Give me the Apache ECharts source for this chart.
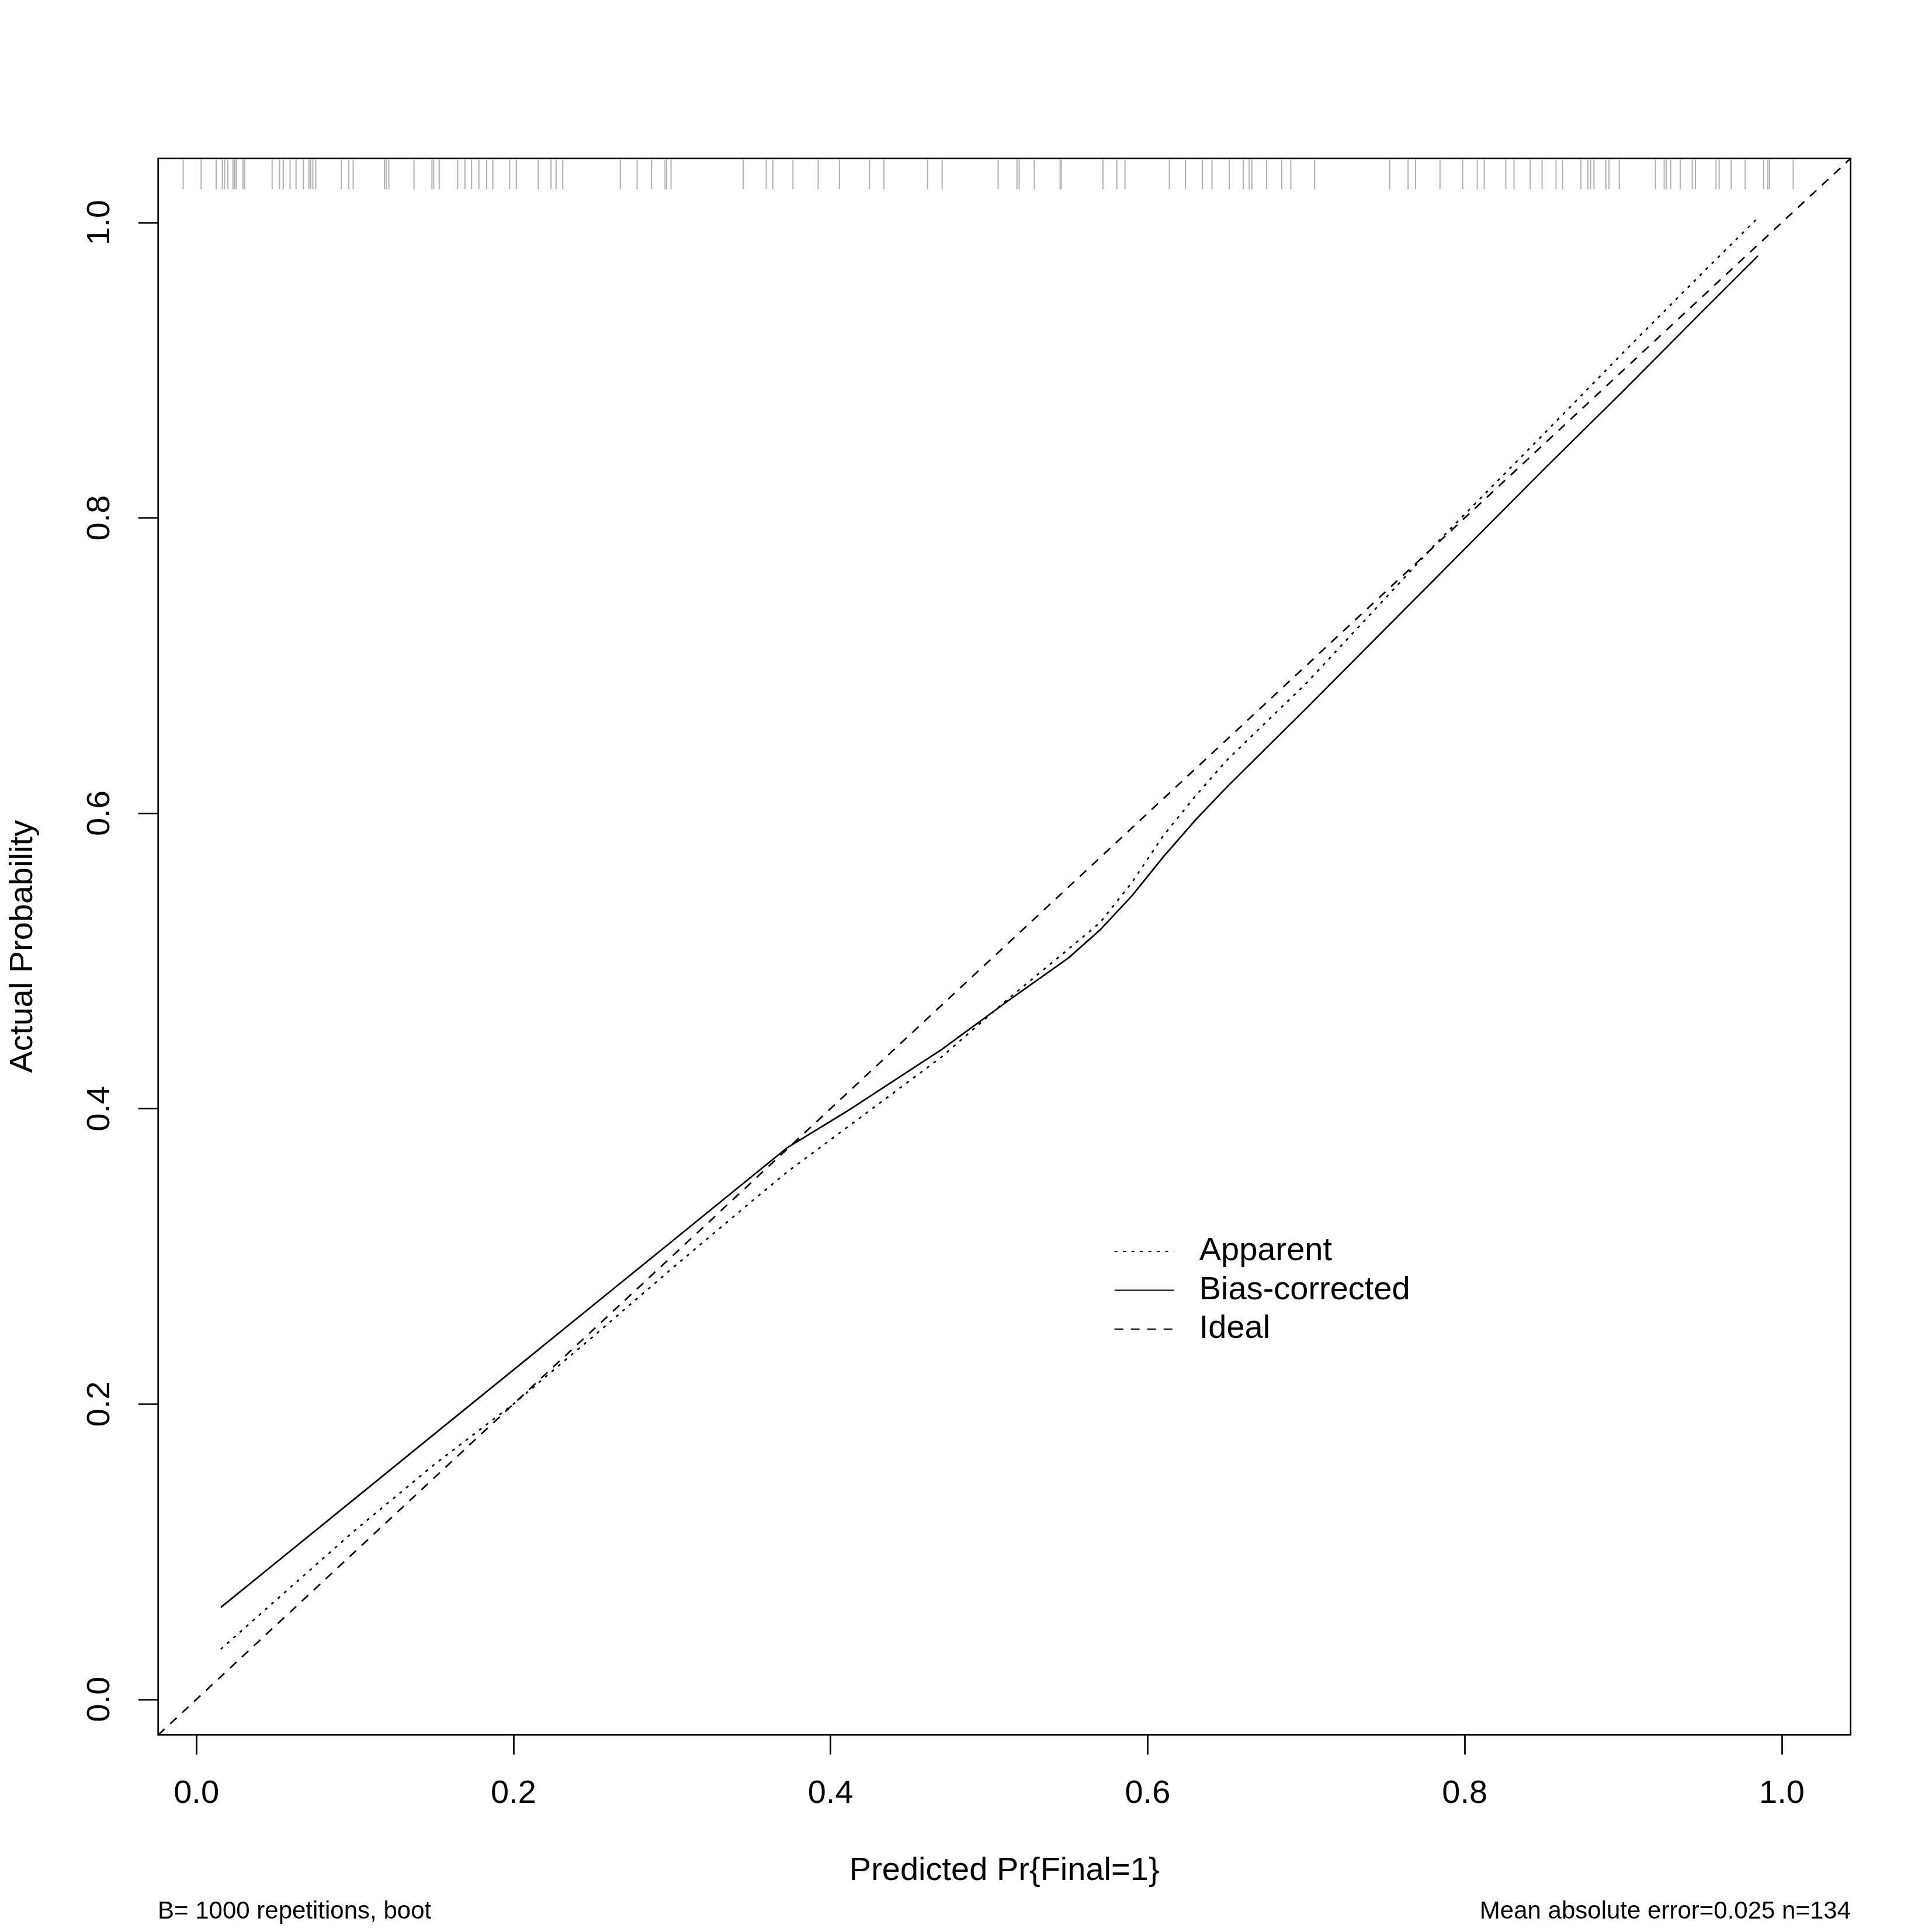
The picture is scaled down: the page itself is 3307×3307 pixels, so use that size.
<!DOCTYPE html>
<html>
<head>
<meta charset="utf-8">
<script src="https://cdn.jsdelivr.net/npm/echarts@6/dist/echarts.min.js"></script>
<style>
html,body{margin:0;padding:0;background:#fff;}
#chart{width:3307px;height:3307px;}
</style>
</head>
<body>
<div id="chart"></div>
<script>
// ---- data ----
const xTicks = [0.0, 0.2, 0.4, 0.6, 0.8, 1.0];
const yTicks = [0.0, 0.2, 0.4, 0.6, 0.8, 1.0];
const xRange = [-0.0241, 1.0434];
const yRange = [-0.0239, 1.0435];

const predicted = [0.0154, 0.05, 0.1, 0.15, 0.2, 0.25, 0.3, 0.35, 0.3725, 0.41, 0.47, 0.51, 0.55, 0.57, 0.59, 0.61, 0.63, 0.65, 0.7, 0.75, 0.78, 0.8, 0.85, 0.9, 0.95, 0.985];
const apparent = [0.034, 0.067, 0.1145, 0.159, 0.200, 0.2455, 0.2918, 0.337, 0.357, 0.387, 0.435, 0.4725, 0.508, 0.526, 0.553, 0.585, 0.6115, 0.636, 0.688, 0.7457, 0.7806, 0.8025, 0.857, 0.912, 0.966, 1.0032];
const biasCorrected = [0.0623, 0.0924, 0.136, 0.1796, 0.2231, 0.2667, 0.3102, 0.3538, 0.3734, 0.398, 0.440, 0.4715, 0.502, 0.521, 0.544, 0.5706, 0.5953, 0.6178, 0.671, 0.725, 0.7574, 0.779, 0.833, 0.886, 0.940, 0.9775];

const rugValues = [-0.0083, 0.0030, 0.0125, 0.0164, 0.0178, 0.0199, 0.0231, 0.0242, 0.0252, 0.0294, 0.0305,
  0.0478, 0.0524, 0.0548, 0.0591, 0.0629, 0.0675, 0.0710, 0.0721, 0.0735, 0.0753, 0.0915, 0.0961, 0.0989,
  0.1186, 0.1197, 0.1214, 0.1373, 0.1486, 0.1497, 0.1532, 0.1648, 0.1694, 0.1736, 0.1782, 0.1831, 0.1870,
  0.1976, 0.2018, 0.2156, 0.2237, 0.2269, 0.2311, 0.2674, 0.2780, 0.2871, 0.2956, 0.2966, 0.2994, 0.3449,
  0.3594, 0.3636, 0.3763, 0.3922, 0.4056, 0.4246, 0.4337, 0.4612, 0.4704, 0.5057, 0.5176, 0.5190, 0.5285,
  0.5448, 0.5455, 0.5718, 0.5806, 0.5857, 0.6137, 0.6239, 0.6345, 0.6406, 0.6515, 0.6604, 0.6641, 0.6658,
  0.6750, 0.6846, 0.6903, 0.7053, 0.7527, 0.7643, 0.7690, 0.7844, 0.7987, 0.8079, 0.8123, 0.8259, 0.8311,
  0.8413, 0.8488, 0.8576, 0.8617, 0.8733, 0.8777, 0.8794, 0.8815, 0.8890, 0.8910, 0.8975, 0.9203, 0.9258,
  0.9271, 0.9299, 0.9360, 0.9435, 0.9455, 0.9585, 0.9605, 0.9681, 0.9769, 0.9885, 0.9912, 0.9922, 1.0072];

const legendNames = ['Apparent', 'Bias-corrected', 'Ideal'];
const xTitle = 'Predicted Pr{Final=1}';
const yTitle = 'Actual Probability';
const footLeft = 'B= 1000 repetitions, boot';
const footRight = 'Mean absolute error=0.025 n=134';

// ---- chart ----
const FONT = "'Liberation Sans', Arial, Helvetica, sans-serif";
const LW = 2.7;
const chart = echarts.init(document.getElementById('chart'), null, {renderer: 'canvas'});

const pairs = (xs, ys) => xs.map((x, i) => [x, ys[i]]);

const option = {
  backgroundColor: '#ffffff',
  animation: false,
  textStyle: {fontFamily: FONT},
  grid: {
    left: 270.7, top: 271, right: 139.3, bottom: 337.7,
    show: true, borderColor: '#000', borderWidth: LW, backgroundColor: 'transparent'
  },
  title: [
    {text: footLeft, left: 270, top: 3251,
     textStyle: {fontFamily: FONT, fontSize: 42, fontWeight: 'normal', color: '#000'}, padding: 0},
    {text: footRight, right: 139, top: 3251,
     textStyle: {fontFamily: FONT, fontSize: 42, fontWeight: 'normal', color: '#000'}, padding: 0}
  ],
  legend: {
    orient: 'vertical',
    left: 1901.7, top: 2109,
    itemWidth: 102, itemHeight: 56, itemGap: 10.5,
    data: legendNames,
    selectedMode: false,
    itemStyle: {opacity: 0},
    textStyle: {fontFamily: FONT, fontSize: 56, color: '#000', padding: [0, 0, 0, 38]}
  },
  xAxis: {
    type: 'value', min: xRange[0], max: xRange[1],
    name: xTitle, nameLocation: 'middle', nameGap: 205,
    nameTextStyle: {fontFamily: FONT, fontSize: 56, color: '#000'},
    axisLine: {show: false, onZero: false},
    splitLine: {show: false},
    axisTick: {show: true, inside: false, length: 34, customValues: xTicks,
               lineStyle: {color: '#000', width: LW}},
    axisLabel: {show: true, margin: 73, customValues: xTicks,
                formatter: v => Number(v).toFixed(1),
                fontFamily: FONT, fontSize: 56, color: '#000'}
  },
  yAxis: {
    type: 'value', min: yRange[0], max: yRange[1],
    name: yTitle, nameLocation: 'middle', nameGap: 203, nameRotate: 90,
    nameTextStyle: {fontFamily: FONT, fontSize: 56, color: '#000'},
    axisLine: {show: false, onZero: false},
    splitLine: {show: false},
    axisTick: {show: true, inside: false, length: 34, customValues: yTicks,
               lineStyle: {color: '#000', width: LW}},
    axisLabel: {show: true, margin: 71, rotate: 90, customValues: yTicks,
                formatter: v => Number(v).toFixed(1),
                fontFamily: FONT, fontSize: 56, color: '#000'}
  },
  series: [
    {
      name: 'Apparent', type: 'line', data: pairs(predicted, apparent),
      symbol: 'none', showSymbol: false, smooth: false,
      lineStyle: {color: '#000', width: LW, type: [5, 9.5], cap: 'butt'},
      itemStyle: {color: '#000'}, z: 3
    },
    {
      name: 'Bias-corrected', type: 'line', data: pairs(predicted, biasCorrected),
      symbol: 'none', showSymbol: false, smooth: false,
      lineStyle: {color: '#000', width: LW, type: 'solid'},
      itemStyle: {color: '#000'}, z: 3
    },
    {
      name: 'Ideal', type: 'line',
      data: [[xRange[0], xRange[0]], [xRange[1], xRange[1]]],
      symbol: 'none', showSymbol: false,
      lineStyle: {color: '#000', width: LW, type: [15, 13], cap: 'butt'},
      itemStyle: {color: '#000'}, z: 3
    },
    {
      name: 'rug', type: 'custom', silent: true,
      data: rugValues.map(v => [v, 0]),
      encode: {x: 0, y: 1},
      renderItem: function (params, api) {
        const px = api.coord([api.value(0), 0])[0];
        const top = params.coordSys.y;
        return {
          type: 'line',
          shape: {x1: px, y1: top + 2, x2: px, y2: top + 53},
          style: {stroke: '#b0b0b0', lineWidth: 2}
        };
      },
      z: 2
    }
  ]
};
chart.setOption(option);
</script>
</body>
</html>
